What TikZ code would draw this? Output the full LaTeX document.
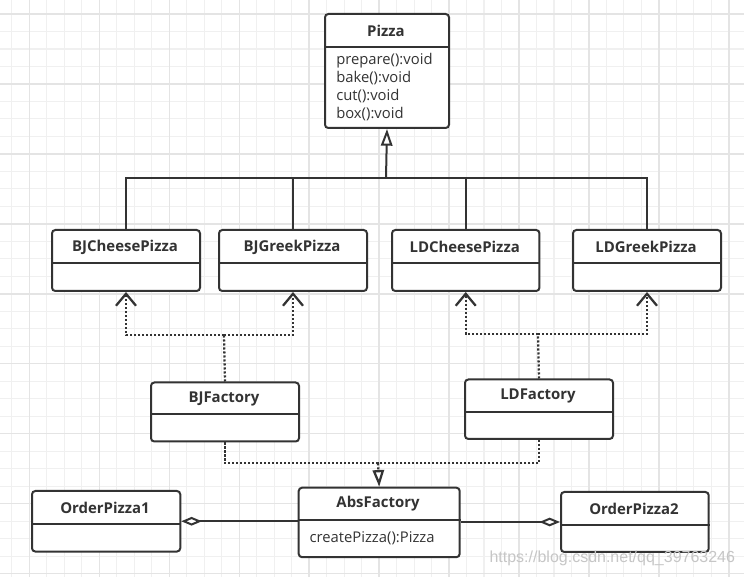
\documentclass[tikz,border=0pt]{standalone}
\usepackage{fontspec}
\setmainfont{Open Sans}
\newfontfamily\wmfont{Liberation Sans}
\usetikzlibrary{arrows.meta}
\definecolor{ink}{HTML}{333333}
\definecolor{gridminor}{HTML}{F0F0F0}
\definecolor{gridmajor}{HTML}{E4E4E4}
\begin{document}
\begin{tikzpicture}[x=0.75pt,y=-0.75pt,
 cls/.style={draw=ink, line width=1.5pt, rounded corners=2.5pt, fill=white, inner sep=0pt, anchor=north west},
 hdr/.style={draw=ink, line width=1.5pt},
 clstitle/.style={font=\bfseries\fontsize{11.2}{13}\selectfont, text=ink, inner sep=0pt},
 body/.style={font=\fontsize{11.1}{13.5}\selectfont, text=ink, inner sep=0pt, align=left, anchor=west},
 conn/.style={draw=ink, line width=1.5pt},
 dep/.style={draw=ink, line width=1.7pt, dash pattern=on 1.6pt off 1.4pt},
 gentip/.style={-{Triangle[open, length=12.5pt, width=8.5pt, fill=white]}},
 deptip/.style={-{Straight Barb[length=9pt, width=15pt]}},
 aggtip/.style={{Diamond[open, length=15.5pt, width=6.5pt, fill=white]}-},
 gminor/.style={draw=gridminor, line width=0.8pt},
 gmajor/.style={draw=gridmajor, line width=1pt},
]
% background and grid
\fill[white] (0,0) rectangle (744,577);
\useasboundingbox (0,0) rectangle (744,577);
\foreach \i in {0,...,42} \draw[gminor] ({11.8+17.49*\i},0) -- ({11.8+17.49*\i},577);
\foreach \i in {0,...,32} \draw[gminor] (0,{14+17.49*\i}) -- (744,{14+17.49*\i});
\foreach \i in {0,...,10} \draw[gmajor] ({29.3+69.96*\i},0) -- ({29.3+69.96*\i},577);
\foreach \i in {0,...,8} \draw[gmajor] (0,{14+69.96*\i}) -- (744,{14+69.96*\i});

% Pizza
\node[cls, minimum width=93pt, minimum height=85.5pt] (pizza) at (324,13) {};
\draw[hdr] (pizza.west |- 0,47) -- (pizza.east |- 0,47);
\node[clstitle] (pizzat) at (386,31) {Pizza};
\node[body] (pizzab) at (336,87) {prepare():void\\bake():void\\cut():void\\box():void};

% concrete pizzas
\node[cls, minimum width=111pt, minimum height=45.75pt] (bjc) at (51,229) {};
\draw[hdr] (bjc.west |- 0,263) -- (bjc.east |- 0,263);
\node[clstitle] (bjct) at (125,247) {BJCheesePizza};

\node[cls, minimum width=111pt, minimum height=45.75pt] (bjg) at (218,229) {};
\draw[hdr] (bjg.west |- 0,263) -- (bjg.east |- 0,263);
\node[clstitle] (bjgt) at (292,247) {BJGreekPizza};

\node[cls, minimum width=110.6pt, minimum height=45.75pt] (ldc) at (391,229) {};
\draw[hdr] (ldc.west |- 0,263) -- (ldc.east |- 0,263);
\node[clstitle] (ldct) at (464.7,247) {LDCheesePizza};

\node[cls, minimum width=111pt, minimum height=45.75pt] (ldg) at (572,229) {};
\draw[hdr] (ldg.west |- 0,263) -- (ldg.east |- 0,263);
\node[clstitle] (ldgt) at (646,247) {LDGreekPizza};

% factories
\node[cls, minimum width=111pt, minimum height=44.25pt] (bjf) at (150,381.5) {};
\draw[hdr] (bjf.west |- 0,414.5) -- (bjf.east |- 0,414.5);
\node[clstitle] (bjft) at (224,398.5) {BJFactory};

\node[cls, minimum width=111pt, minimum height=44.6pt] (ldf) at (464,378.5) {};
\draw[hdr] (ldf.west |- 0,412.3) -- (ldf.east |- 0,412.3);
\node[clstitle] (ldft) at (538,396) {LDFactory};

\node[cls, minimum width=120.75pt, minimum height=52.1pt] (abs) at (297.7,486.7) {};
\draw[hdr] (abs.west |- 0,520.3) -- (abs.east |- 0,520.3);
\node[clstitle] (abst) at (378,504) {AbsFactory};
\node[body] (absb) at (309.3,538.3) {createPizza():Pizza};

% order classes
\node[cls, minimum width=111.2pt, minimum height=45.4pt] (op1) at (31,490) {};
\draw[hdr] (op1.west |- 0,524.3) -- (op1.east |- 0,524.3);
\node[clstitle] (op1t) at (105,508) {OrderPizza1};

\node[cls, minimum width=110.8pt, minimum height=45pt] (op2) at (560,491) {};
\draw[hdr] (op2.west |- 0,525.3) -- (op2.east |- 0,525.3);
\node[clstitle] (op2t) at (634,509) {OrderPizza2};

% generalization
\coordinate (bar) at (386,178);
\draw[conn] (bjc.north) |- (bar) -| (ldg.north);
\draw[conn] (bjg.north) -- (bjg.north |- bar);
\draw[conn] (ldc.north) -- (ldc.north |- bar);
\draw[conn, gentip] (bar) -- (pizza.south);

% dependencies
\coordinate (bjm) at (224,335);
\draw[dep] (bjf.north) -- (bjm);
\draw[dep, deptip] (bjm) -| (bjc.south);
\draw[dep, deptip] (bjm) -| (bjg.south);
\coordinate (ldm) at (538,333.7);
\draw[dep] (ldf.north) -- (ldm);
\draw[dep, deptip] (ldm) -| (ldc.south);
\draw[dep, deptip] (ldm) -| (ldg.south);

% realization
\coordinate (absj) at (378,463.3);
\draw[dep] (bjf.south) |- (absj);
\draw[dep] (ldf.south) |- (absj);
\draw[dep, gentip] (absj) -- (abs.north);

% aggregation
\draw[conn, aggtip] (op1.east) -- (op1.east -| abs.west);
\draw[conn, aggtip] (op2.west) -- (op2.west -| abs.east);

% watermark
\node[font=\wmfont\fontsize{12}{14}\selectfont, text=gray!45, inner sep=0pt] (wm) at (612.3,558) {https://blog.csdn.net/qq\_39763246};
\end{tikzpicture}
\end{document}
